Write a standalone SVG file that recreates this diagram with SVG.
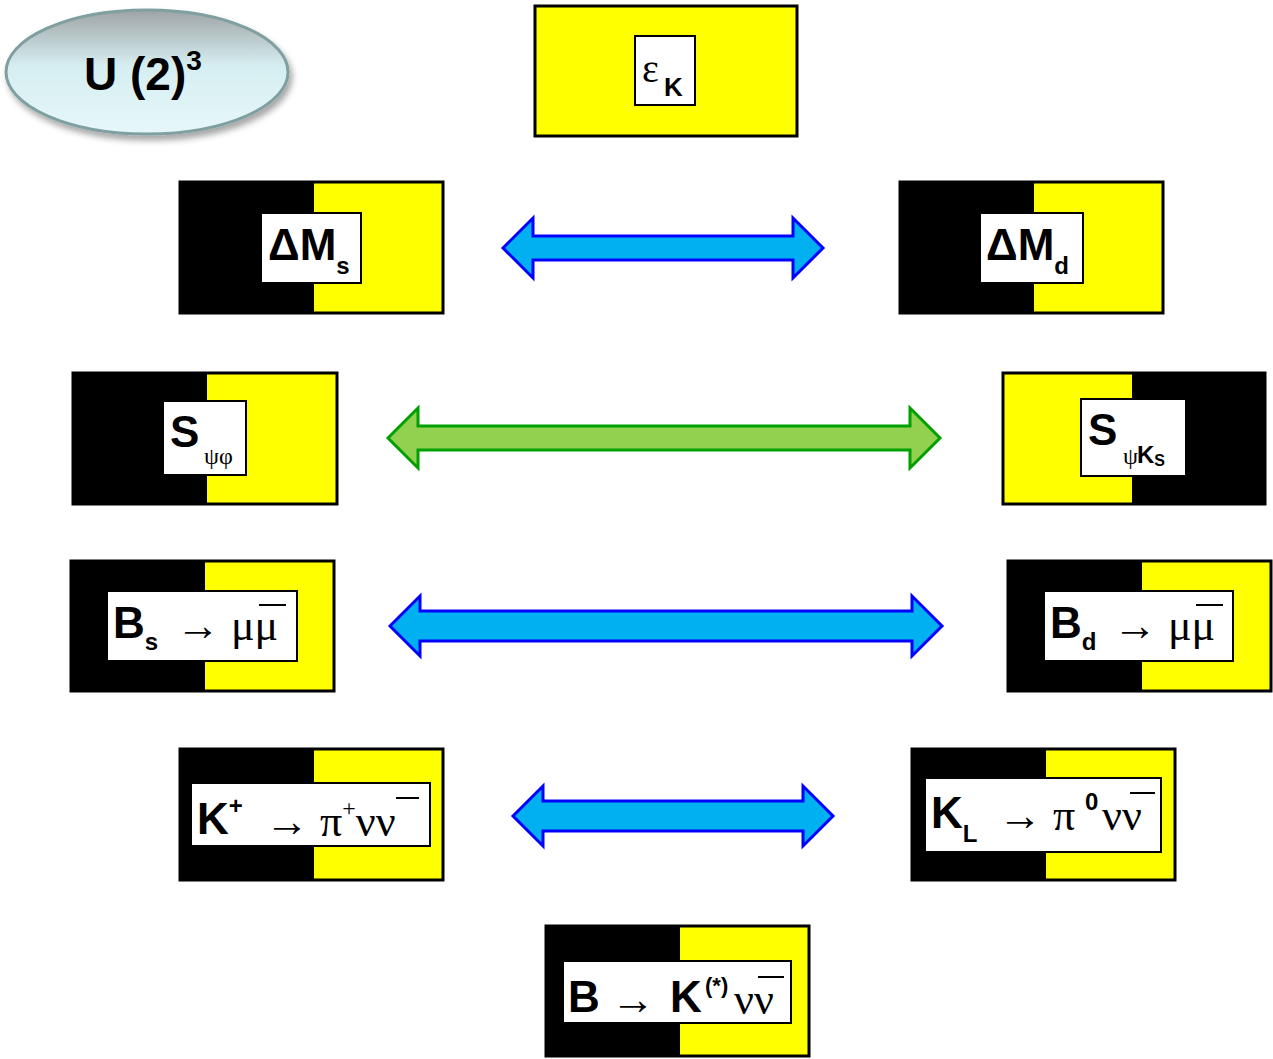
<svg xmlns="http://www.w3.org/2000/svg" width="1273" height="1059" viewBox="0 0 1273 1059">
<defs>
<linearGradient id="eg" x1="0" y1="0" x2="0" y2="1">
<stop offset="0" stop-color="#9ea4a6"/><stop offset="0.45" stop-color="#d6eef1"/><stop offset="1" stop-color="#e6f7f9"/>
</linearGradient>
<filter id="sh" x="-20%" y="-20%" width="140%" height="150%"><feDropShadow dx="3" dy="5" stdDeviation="3" flood-opacity="0.35"/></filter>
</defs>
<style>
.o{fill:none;stroke:#000;stroke-width:3}
.y{fill:#ffff00}.k{fill:#000}
.l{fill:#fff;stroke:#000;stroke-width:2}
.t{font-family:"Liberation Sans",Arial,sans-serif;font-weight:bold;fill:#000}
.g{font-family:"Liberation Serif","Times New Roman",serif;fill:#000}
.ab{fill:#00b0f0;stroke:#0000ff;stroke-width:3;stroke-linejoin:miter}
.ag{fill:#92d050;stroke:#00a000;stroke-width:3}
</style>
<g id="u23">
<ellipse cx="147" cy="72" rx="141" ry="62" fill="url(#eg)" stroke="#7f9fa0" stroke-width="3" filter="url(#sh)"/>
<text x="84" y="90" class="t" font-size="46">U (2)<tspan font-size="28" dy="-20">3</tspan></text>
</g>
<g id="epsK">
<rect x="535" y="6" width="262" height="130" class="y"/><rect x="535" y="6" width="262" height="130" class="o"/>
<rect x="635" y="36" width="60" height="69" class="l"/>
<text x="642" y="82" class="g" font-size="40">ε</text><text x="664" y="96" class="t" font-size="26">K</text>
</g>
<g id="dMs">
<rect x="180" y="182" width="134" height="131" class="k"/><rect x="314" y="182" width="129" height="131" class="y"/><rect x="180" y="182" width="263" height="131" class="o"/>
<rect x="261" y="213" width="100" height="70" class="l"/>
<text x="268" y="260" class="t" font-size="44">ΔM<tspan font-size="24" dy="14">s</tspan></text>
</g>
<g id="dMd">
<rect x="900" y="182" width="134" height="131" class="k"/><rect x="1034" y="182" width="129" height="131" class="y"/><rect x="900" y="182" width="263" height="131" class="o"/>
<rect x="980" y="213" width="103" height="70" class="l"/>
<text x="986" y="260" class="t" font-size="44">ΔM<tspan font-size="24" dy="14">d</tspan></text>
</g>
<g id="Spsiphi">
<rect x="73" y="373" width="134" height="131" class="k"/><rect x="207" y="373" width="130" height="131" class="y"/><rect x="73" y="373" width="264" height="131" class="o"/>
<rect x="163" y="401" width="83" height="74" class="l"/>
<text x="170" y="447" class="t" font-size="44">S</text><text x="204" y="464" class="g" font-size="24">ψφ</text>
</g>
<g id="SpsiKs">
<rect x="1003" y="373" width="129" height="131" class="y"/><rect x="1132" y="373" width="133" height="131" class="k"/><rect x="1003" y="373" width="262" height="131" class="o"/>
<rect x="1081" y="399" width="105" height="77" class="l"/>
<text x="1088" y="445" class="t" font-size="44">S</text><text x="1123" y="464" class="g" font-size="24">ψ</text><text x="1137" y="463" class="t" font-size="24">K<tspan font-size="16" dy="3">S</tspan></text>
</g>
<g id="Bsmumu">
<rect x="71" y="561" width="134" height="130" class="k"/><rect x="205" y="561" width="129" height="130" class="y"/><rect x="71" y="561" width="263" height="130" class="o"/>
<rect x="107" y="591" width="190" height="70" class="l"/>
<text x="113" y="638" class="t" font-size="44">B<tspan font-size="24" dy="12">s</tspan></text>
<text x="176" y="640" class="g" font-size="44">→ μ<tspan>μ</tspan></text>
<line x1="259" y1="605" x2="286" y2="605" stroke="#000" stroke-width="2"/>
</g>
<g id="Bdmumu">
<rect x="1008" y="561" width="134" height="130" class="k"/><rect x="1142" y="561" width="129" height="130" class="y"/><rect x="1008" y="561" width="263" height="130" class="o"/>
<rect x="1044" y="591" width="189" height="70" class="l"/>
<text x="1050" y="638" class="t" font-size="44">B<tspan font-size="24" dy="12">d</tspan></text>
<text x="1113" y="640" class="g" font-size="44">→ μ<tspan>μ</tspan></text>
<line x1="1196" y1="605" x2="1223" y2="605" stroke="#000" stroke-width="2"/>
</g>
<g id="Kpnn">
<rect x="180" y="749" width="134" height="131" class="k"/><rect x="314" y="749" width="129" height="131" class="y"/><rect x="180" y="749" width="263" height="131" class="o"/>
<rect x="191" y="783" width="239" height="63" class="l"/>
<text x="197" y="834" class="t" font-size="44">K<tspan font-size="24" dy="-20">+</tspan></text>
<text x="265" y="836" class="g" font-size="44">→ π<tspan font-size="24" dy="-20">+</tspan><tspan dy="20">νν</tspan></text>
<line x1="396" y1="798" x2="419" y2="798" stroke="#000" stroke-width="2"/>
</g>
<g id="KLpnn">
<rect x="912" y="749" width="134" height="131" class="k"/><rect x="1046" y="749" width="129" height="131" class="y"/><rect x="912" y="749" width="263" height="131" class="o"/>
<rect x="925" y="778" width="236" height="74" class="l"/>
<text x="931" y="828" class="t" font-size="44">K<tspan font-size="24" dy="14">L</tspan></text>
<text x="998" y="830" class="g" font-size="44">→ π</text>
<text x="1085" y="810" class="t" font-size="24">0</text>
<text x="1102" y="830" class="g" font-size="44">νν</text>
<line x1="1130" y1="793" x2="1155" y2="793" stroke="#000" stroke-width="2"/>
</g>
<g id="BKnn">
<rect x="546" y="926" width="134" height="130" class="k"/><rect x="680" y="926" width="129" height="130" class="y"/><rect x="546" y="926" width="263" height="130" class="o"/>
<rect x="563" y="961" width="228" height="62" class="l"/>
<text x="568" y="1012" class="t" font-size="44">B</text>
<text x="611" y="1014" class="g" font-size="44">→</text>
<text x="670" y="1012" class="t" font-size="44">K</text>
<text x="705" y="993" class="t" font-size="22">(*)</text>
<text x="734" y="1014" class="g" font-size="44">νν</text>
<line x1="758" y1="977" x2="784" y2="977" stroke="#000" stroke-width="2"/>
</g>
<g id="connectors">
<polygon class="ab" points="503,248 533,218 533,236 793,236 793,218 823,248 793,278 793,260 533,260 533,278"/>
<polygon class="ag" points="388,438 418,408 418,426 910,426 910,408 940,438 910,468 910,450 418,450 418,468"/>
<polygon class="ab" points="390,626 420,596 420,611 912,611 912,596 942,626 912,656 912,641 420,641 420,656"/>
<polygon class="ab" points="513,816 543,786 543,801 803,801 803,786 833,816 803,846 803,831 543,831 543,846"/>
</g>
</svg>
